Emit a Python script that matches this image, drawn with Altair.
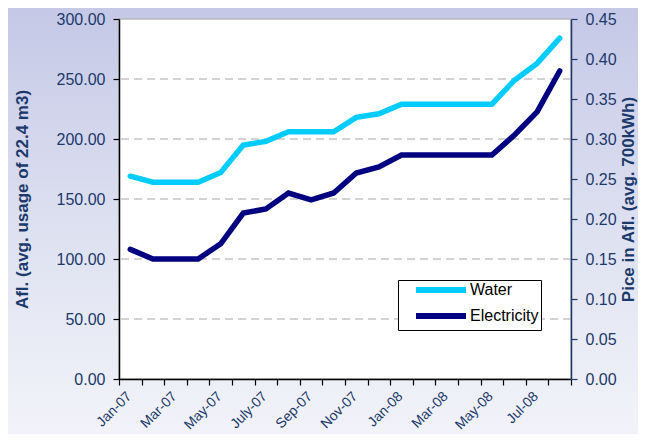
import altair as alt
import pandas as pd

months = ["Jan-07", "Feb-07", "Mar-07", "Apr-07", "May-07", "Jun-07", "July-07", "Aug-07",
          "Sep-07", "Oct-07", "Nov-07", "Dec-07", "Jan-08", "Feb-08", "Mar-08", "Apr-08",
          "May-08", "Jun-08", "Jul-08", "Aug-08"]
water = [169, 164, 164, 164, 172, 195, 198, 206, 206, 206, 218, 221, 229, 229, 229, 229,
         229, 249, 263, 284]
electricity = [0.162, 0.150, 0.150, 0.150, 0.169, 0.2075, 0.2125, 0.2325, 0.224, 0.2325,
               0.2575, 0.265, 0.280, 0.280, 0.280, 0.280, 0.280, 0.305, 0.334, 0.385]
left_ticks = [0, 50, 100, 150, 200, 250, 300]
right_ticks = [0, 0.05, 0.10, 0.15, 0.20, 0.25, 0.30, 0.35, 0.40, 0.45]
grid_values = [50, 100, 150, 200, 250]
series_names = ["Water", "Electricity"]
series_colors = ["#00CCFF", "#000080"]

W, H = 452, 360
PAD = {"left": 111, "top": 11, "right": 67, "bottom": 55}
NAVY = "#1B3A6B"
FONT = "Liberation Sans"

rows = []
for i, m in enumerate(months):
    rows.append({"month": m, "pos": i + 0.5, "series": "Water", "value": water[i]})
    rows.append({"month": m, "pos": i + 0.5, "series": "Electricity", "value": electricity[i]})
df = pd.DataFrame(rows)

# label every other month at the category boundary ticks
label_arr = "[" + ",".join("'" + months[i] + "'" for i in range(0, 20, 2)) + "]"
label_expr = "(datum.value % 2 == 0 && datum.value < 20) ? " + label_arr + "[datum.value / 2] : ''"

one = pd.DataFrame({"a": [0]})

bg = alt.Chart(one).mark_rect(
    clip=False,
    fill=alt.Gradient(
        gradient="linear",
        stops=[alt.GradientStop(color="#C5C8E6", offset=0),
               alt.GradientStop(color="#DDE0F0", offset=0.5),
               alt.GradientStop(color="#F2F3F9", offset=1)],
        x1=0, x2=0, y1=0, y2=1,
    ),
).encode(
    x=alt.value(-PAD["left"]), x2=alt.value(W + PAD["right"]),
    y=alt.value(-PAD["top"]), y2=alt.value(H + PAD["bottom"]),
)

plotbg = alt.Chart(one).mark_rect(fill="white", stroke="#B8B8B8", strokeWidth=1.5).encode(
    x=alt.value(0), x2=alt.value(W), y=alt.value(0), y2=alt.value(H)
)

x_axis = alt.Axis(
    values=list(range(21)), labelExpr=label_expr, title=None,
    labelAngle=-45, labelAlign="right", labelBaseline="top",
    labelPadding=4, labelOffset=5, labelFontSize=14, labelColor=NAVY,
    labelFont=FONT, tickSize=6, tickColor="black", domainColor="black",
    domainWidth=1.5, tickWidth=1.2, labelOverlap=False, labelBound=False,
    labelFlush=False, grid=False, zindex=1,
)
x_scale = alt.Scale(domain=[0, 20], nice=False, zero=False)

left_axis = alt.Axis(
    values=left_ticks, format=".2f", title="Afl. (avg. usage of 22.4 m3)",
    orient="left", grid=False, labelFontSize=16, labelColor=NAVY, labelFont=FONT,
    titleFont=FONT, titleFontSize=17, titleFontWeight="bold", titleColor=NAVY,
    titlePadding=25, labelPadding=8, tickSize=6, tickColor="black",
    domainColor="black", domainWidth=1.5, tickWidth=1.2, zindex=1,
)
left_scale = alt.Scale(domain=[0, 300], nice=False)

grid = alt.Chart(pd.DataFrame({"g": grid_values})).mark_rule(
    color="#A8A8A8", strokeDash=[8, 5], strokeWidth=1.2
).encode(
    y=alt.Y("g:Q", scale=left_scale, axis=left_axis, title="Afl. (avg. usage of 22.4 m3)")
)

legend = alt.Legend(
    title=None, orient="none", legendX=279, legendY=261,
    fillColor="white", strokeColor="black", padding=2, cornerRadius=0,
    symbolType="M-5,0H5", symbolStrokeWidth=6, symbolSize=100,
    symbolOffset=33, labelOffset=21,
    labelFontSize=16, labelFont=FONT, labelColor="black",
    labelExpr="datum.label + '\u00a0\u00a0\u00a0'",
    rowPadding=2,
)

water_line = alt.Chart(df).transform_filter(alt.datum.series == "Water").mark_line(
    strokeWidth=5.5, strokeCap="round", strokeJoin="miter"
).encode(
    x=alt.X("pos:Q", scale=x_scale, axis=x_axis),
    y=alt.Y("value:Q", scale=left_scale, axis=left_axis, title="Afl. (avg. usage of 22.4 m3)"),
    color=alt.Color(
        "series:N",
        scale=alt.Scale(domain=series_names, range=series_colors),
        legend=legend,
    ),
)

elec_line = alt.Chart(df).transform_filter(alt.datum.series == "Electricity").mark_line(
    strokeWidth=5.5, strokeCap="round", strokeJoin="miter"
).encode(
    x=alt.X("pos:Q", scale=x_scale, axis=x_axis),
    y=alt.Y(
        "value:Q",
        scale=alt.Scale(domain=[0, 0.45], nice=False),
        axis=alt.Axis(
            values=right_ticks, format=".2f", title="Pice in Afl. (avg. 700kWh)",
            orient="right", grid=False, labelFontSize=16, labelColor=NAVY, labelFont=FONT,
            titleFont=FONT, titleFontSize=17, titleFontWeight="bold", titleColor=NAVY,
            titleAngle=270, titleBaseline="top", titlePadding=4, labelPadding=8,
            tickSize=6, tickColor=NAVY,
            domainColor=NAVY, domainWidth=1.5, tickWidth=1.2, zindex=1,
        ),
    ),
    color=alt.Color("series:N", scale=alt.Scale(domain=series_names, range=series_colors),
                    legend=legend),
)

inner = alt.layer(grid, water_line)

chart = alt.layer(bg, plotbg, inner, elec_line).resolve_scale(
    y="independent"
).properties(
    width=W, height=H,
    autosize=alt.AutoSizeParams(type="none"),
    padding=PAD,
    background="#DDE0F0",
).configure_view(stroke=None)

chart.save("out.html", embed_options={"renderer": "svg", "actions": False})
